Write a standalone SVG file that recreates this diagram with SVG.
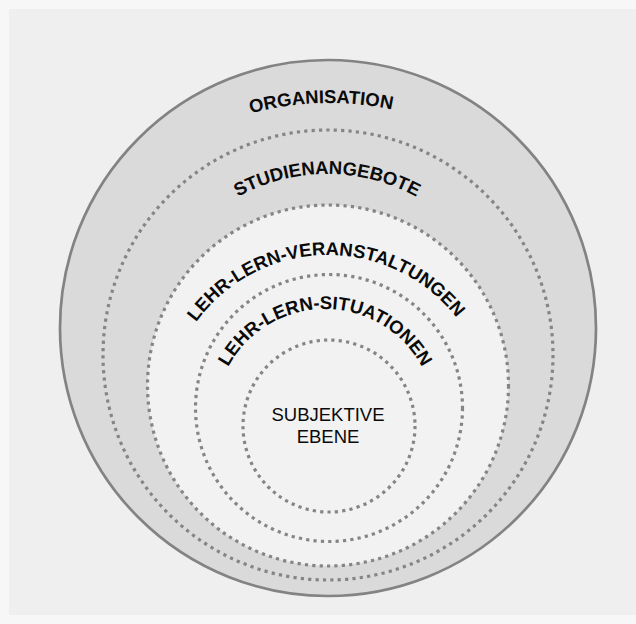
<svg xmlns="http://www.w3.org/2000/svg" xmlns:xlink="http://www.w3.org/1999/xlink" width="636" height="624" viewBox="0 0 636 624">
<style>
.ring{fill:none;stroke:#858585;stroke-width:3.2;stroke-dasharray:3.2 4.2}
.solid{fill:#dadada;stroke:#838383;stroke-width:2.7}
.arc{font-family:"Liberation Sans",Arial,Helvetica,sans-serif;font-weight:bold;font-size:18.5px;fill:#0a0a0a}
.center{font-family:"Liberation Sans",Arial,Helvetica,sans-serif;font-size:18.5px;fill:#0a0a0a;text-anchor:middle}
</style>
<defs>
<path id="p-org" d="M27.5 405 A302 302 0 0 1 631.5 405"/>
<path id="p-stu" d="M142 359 A185 185 0 0 1 512 359"/>
<path id="p-ver" d="M165 418 A163 163 0 0 1 491 418"/>
<path id="p-sit" d="M215 419 A110 110 0 0 1 435 419"/>
</defs>
<rect width="636" height="624" fill="#f7f7f7"/>
<rect x="9" y="9" width="627" height="606" fill="#efefef"/>
<g id="organisation">
<circle class="solid" cx="328" cy="328" r="268"/>
<text class="arc"><textPath xlink:href="#p-org" startOffset="465.9" text-anchor="middle">ORGANISATION</textPath></text>
</g>
<g id="studienangebote">
<circle class="ring" cx="328" cy="355" r="225"/>
<text class="arc"><textPath xlink:href="#p-stu" startOffset="290.6" text-anchor="middle">STUDIENANGEBOTE</textPath></text>
</g>
<g id="lehr-lern-veranstaltungen">
<circle cx="328" cy="385.5" r="180.5" fill="#f2f2f2"/>
<circle class="ring" cx="328" cy="385.5" r="180.5"/>
<text class="arc"><textPath xlink:href="#p-ver" startOffset="253.1" text-anchor="middle">LEHR-LERN-VERANSTALTUNGEN</textPath></text>
</g>
<g id="lehr-lern-situationen">
<circle class="ring" cx="329" cy="408" r="133.5"/>
<text class="arc"><textPath xlink:href="#p-sit" startOffset="172.8" text-anchor="middle">LEHR-LERN-SITUATIONEN</textPath></text>
</g>
<g id="subjektive-ebene">
<circle class="ring" cx="329" cy="426" r="86"/>
<text class="center" x="328" y="421">SUBJEKTIVE</text>
<text class="center" x="328" y="443">EBENE</text>
</g>
</svg>
